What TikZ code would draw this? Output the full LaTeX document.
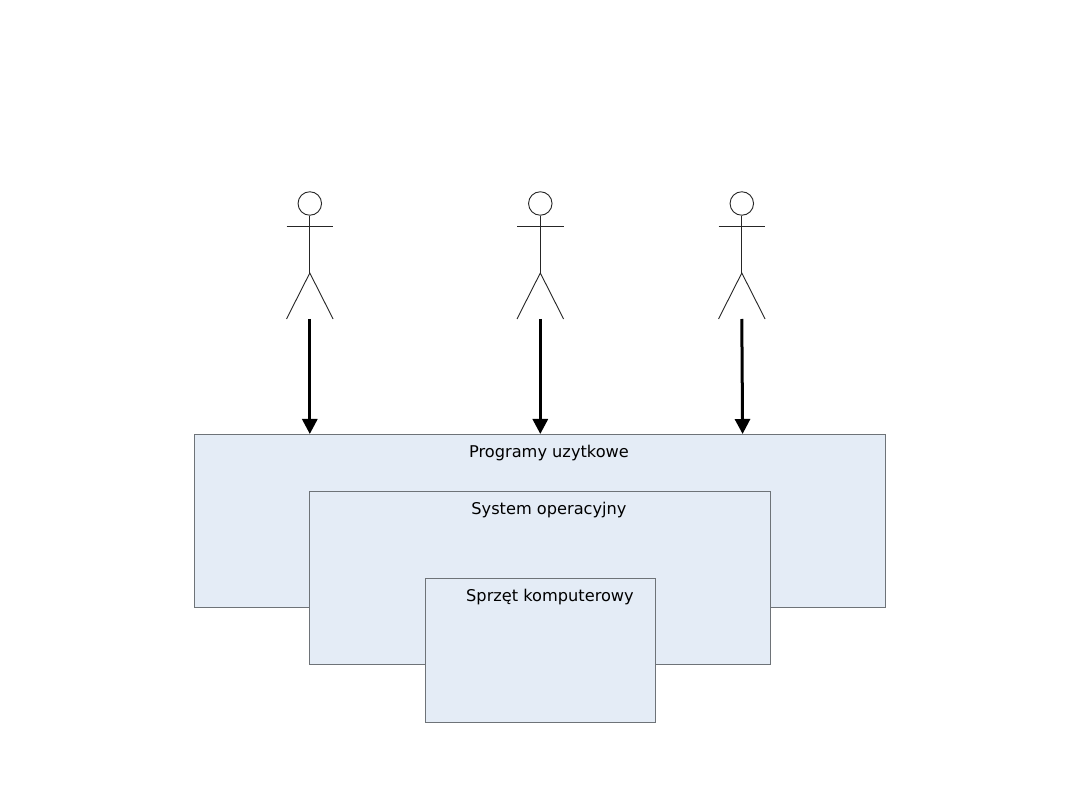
\documentclass[tikz,border=0pt]{standalone}
\usepackage{fontspec}
\setmainfont{DejaVu Sans}
\usetikzlibrary{arrows.meta}
\definecolor{layerfill}{HTML}{E4ECF6}
\definecolor{layeredge}{HTML}{6E7378}
\tikzset{
  x=1pt,y=-1pt,
  layer/.style={draw=layeredge,fill=layerfill,line width=0.8pt,rectangle,inner sep=0pt,minimum width=#1},
  layertext/.style={inner sep=0pt,font=\fontsize{16.2}{20}\selectfont,text=black,anchor=base},
  limb/.style={draw=black!85,line width=0.9pt},
  flow/.style={draw=black,line width=3pt,-{Triangle[length=15pt,width=15pt]},shorten >=0pt},
  head/.style={circle,draw=black!85,fill=white,line width=0.9pt,minimum size=23.5pt,inner sep=0pt},
}
% One stick figure; #1 is its name prefix, #2 the centre line x
\newcommand{\stickman}[2]{%
  \node[head] (#1head) at (#2,203.5) {};
  \coordinate (#1hip) at (#2,273);
  \coordinate (#1feet) at (#2,319);
  \draw[limb] (#1head.south) -- (#1hip);
  \draw[limb] (#2-23.3,226.5) -- (#2+23.3,226.5);
  \draw[limb] (#2-23.3,319) -- (#1hip) -- (#2+23.3,319);
}
\begin{document}
\begin{tikzpicture}
\path[use as bounding box,fill=white] (0,0) rectangle (1080,810);

% Nested system layers
\node[layer=691pt,minimum height=173pt,anchor=north west] (apps) at (194,434) {};
\node[layer=461pt,minimum height=173pt,anchor=north west] (os) at (309.2,491) {};
\node[layer=230pt,minimum height=144pt,anchor=north west] (hw) at (425,578) {};

\node[layertext] (appstext) at (549,457) {Programy uzytkowe};
\node[layertext] (ostext) at (549,514.4) {System operacyjny};
\node[layertext] (hwtext) at (550,601) {Sprzęt komputerowy};

% Users
\stickman{a}{309.8}
\stickman{b}{540.3}
\stickman{c}{741.8}

% Arrows from users to the application layer
\coordinate (atip) at (309.8,434);
\coordinate (btip) at (540.3,434);
\coordinate (ctip) at (742.6,434);
\draw[flow] (afeet) -- (atip);
\draw[flow] (bfeet) -- (btip);
\draw[flow] (cfeet) -- (ctip);
\end{tikzpicture}
\end{document}
